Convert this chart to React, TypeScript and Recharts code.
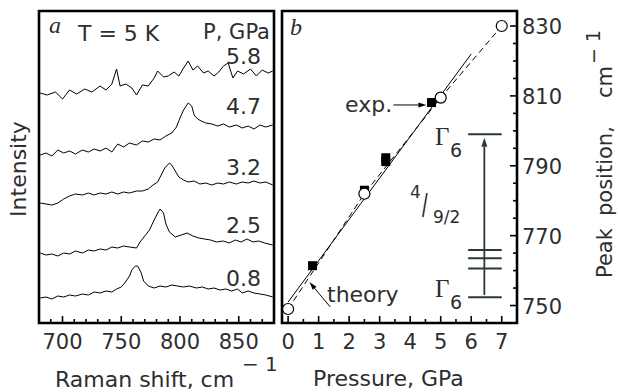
import React from "react";
import {
  LineChart, ComposedChart, Line, Scatter, XAxis, YAxis, ReferenceArea, ReferenceLine,
} from "recharts";

const SANS = "'DejaVu Sans', sans-serif";
const SERIF = "'Liberation Serif', 'DejaVu Serif', serif";
const INK = "#2e2e2e";
const LEVEL = "#2a3838";

// Raman spectra at 5 K, stacked, [shift (cm-1), intensity (a.u.)]
const spec58: [number, number][] = [
  [681, 230], [687, 228], [694, 231], [700, 224], [706, 233], [712, 229], [719, 234], [725, 231],
  [732, 237], [737, 233], [742, 239], [746, 254], [749, 237], [754, 239], [759, 235], [763, 228],
  [768, 238], [773, 237], [778, 245], [781, 252], [786, 246], [790, 247], [795, 251], [799, 247],
  [803, 255], [807, 262], [811, 253], [815, 257], [820, 250], [824, 252], [829, 247], [833, 251],
  [837, 257], [841, 260], [845, 245], [849, 252], [854, 249], [860, 254], [865, 247], [870, 253],
  [875, 250], [879, 252],
];
const spec47: [number, number][] = [
  [681, 168], [686, 170], [691, 167], [696, 173], [701, 170], [706, 172], [711, 169], [717, 173],
  [722, 171], [727, 174], [732, 172], [737, 175], [742, 171], [747, 179], [752, 176], [757, 180],
  [763, 178], [768, 182], [773, 181], [778, 184], [783, 183], [788, 187], [793, 190], [797, 196],
  [800, 205], [803, 213], [807, 220], [810, 217], [812, 208], [815, 204], [818, 202], [822, 200],
  [827, 199], [832, 197], [837, 199], [842, 196], [848, 198], [853, 195], [858, 197], [863, 194],
  [868, 198], [873, 196], [879, 198],
];
const spec32: [number, number][] = [
  [681, 120], [686, 119], [691, 118], [696, 120], [701, 124], [706, 127], [711, 129], [717, 128],
  [722, 130], [727, 128], [732, 130], [737, 129], [742, 131], [747, 129], [752, 131], [757, 130],
  [763, 132], [768, 132], [773, 134], [777, 138], [781, 141], [784, 148], [787, 155], [791, 160],
  [793, 158], [796, 152], [799, 146], [803, 143], [807, 141], [812, 142], [817, 139], [822, 140],
  [827, 138], [832, 140], [837, 139], [842, 141], [848, 139], [853, 141], [858, 140], [863, 142],
  [868, 140], [873, 141], [879, 138],
];
const spec25: [number, number][] = [
  [681, 70], [686, 68], [691, 69], [696, 67], [701, 70], [706, 69], [711, 72], [717, 70],
  [722, 73], [727, 72], [732, 74], [737, 73], [742, 76], [747, 75], [752, 77], [757, 76],
  [763, 75], [766, 81], [770, 87], [774, 93], [778, 103], [781, 110], [783, 114], [786, 110],
  [788, 99], [791, 91], [796, 86], [801, 88], [806, 90], [811, 87], [816, 85], [821, 84],
  [826, 83], [831, 81], [837, 82], [842, 80], [847, 83], [852, 81], [857, 84], [862, 81],
  [867, 82], [872, 80], [879, 78],
];
const spec08: [number, number][] = [
  [681, 25], [686, 26], [691, 24], [696, 27], [701, 26], [706, 28], [711, 27], [717, 29],
  [722, 28], [727, 31], [732, 30], [737, 32], [742, 31], [746, 34], [750, 36], [753, 40],
  [757, 47], [759, 53], [762, 57], [764, 57], [767, 50], [769, 42], [773, 37], [778, 35],
  [783, 37], [788, 36], [793, 38], [798, 37], [803, 36], [808, 37], [814, 35], [819, 36],
  [824, 34], [829, 35], [834, 33], [839, 34], [844, 32], [849, 34], [853, 30], [858, 32],
  [863, 30], [868, 29], [873, 28], [879, 26],
];
const spectra = [spec58, spec47, spec32, spec25, spec08];
const pressureLabels = ["5.8", "4.7", "3.2", "2.5", "0.8"];

const shiftDomain = [680, 880];
const shiftTicks = [690, 700, 710, 720, 730, 740, 750, 760, 770, 780, 790, 800, 810, 820, 830, 840, 850, 860, 870];
const shiftMajor = [700, 750, 800, 850];
const intensityDomain = [0, 312];

// panel b
const pDomain = [-0.2, 7.5];
const pTicks = [0, 0.5, 1, 1.5, 2, 2.5, 3, 3.5, 4, 4.5, 5, 5.5, 6, 6.5, 7];
const pMajor = [0, 1, 2, 3, 4, 5, 6, 7];
const peakDomain = [745, 834.3];
const peakTicks = [750, 755, 760, 765, 770, 775, 780, 785, 790, 795, 800, 805, 810, 815, 820, 825, 830];
const peakMajor = [750, 770, 790, 810, 830];

const theoryP = [0, 2.5, 5, 7];
const theoryPeak = [749, 782, 809.5, 830];
const expP = [0.8, 2.5, 3.2, 3.2, 4.7];
const expPeak = [761.4, 783, 791.2, 792.3, 808.1];
const fitP = [0, 6];
const fitPeak = [751, 822];

// crystal-field levels of 4I9/2 (cm-1)
const levelGamma6 = [752.4, 799];
const levelOthers = [760.6, 763.5, 765.9];
const levelSpan = [5.9, 7.0];
const levelArrowP = 6.43;

const toXY = (xs: number[], ys: number[]) => xs.map((x, i) => ({ x, y: ys[i] }));

const bottomTick = (major: number[]) => (props: any) => {
  const { x, y, payload } = props;
  const isMajor = major.includes(payload.value);
  return (
    <g>
      <line x1={x} x2={x} y1={y} y2={y - (isMajor ? 7 : 4)} stroke="#000" strokeWidth={1.6} />
      {isMajor && (
        <text x={x} y={y + 26} textAnchor="middle" fontFamily={SANS} fontSize={21} fill={INK}>
          {payload.value}
        </text>
      )}
    </g>
  );
};

const rightTick = (props: any) => {
  const { x, y, payload } = props;
  const isMajor = peakMajor.includes(payload.value);
  return (
    <g>
      <line x1={x} x2={x - (isMajor ? 7 : 4)} y1={y} y2={y} stroke="#000" strokeWidth={1.6} />
      {isMajor && (
        <text x={x + 5} y={y + 8} textAnchor="start" fontFamily={SANS} fontSize={21} fill={INK}>
          {payload.value}
        </text>
      )}
    </g>
  );
};

const arrowShape = (color: string, w: number, head = 9, half = 3) => (p: any) => {
  const { x1, y1, x2, y2 } = p;
  const dx = x2 - x1, dy = y2 - y1;
  const len = Math.hypot(dx, dy) || 1;
  const ux = dx / len, uy = dy / len;
  const bx = x2 - ux * head, by = y2 - uy * head;
  return (
    <g>
      <line x1={x1} y1={y1} x2={bx} y2={by} stroke={color} strokeWidth={w} />
      <polygon points={`${x2},${y2} ${bx - uy * half},${by + ux * half} ${bx + uy * half},${by - ux * half}`} fill={color} />
    </g>
  );
};

const square = (p: any) => <rect x={p.cx - 4.5} y={p.cy - 4.5} width={9} height={9} fill="#000" />;
const openCircle = (p: any) => <circle cx={p.cx} cy={p.cy} r={5.5} fill="#fff" stroke="#000" strokeWidth={1.2} />;

function SpectraPanel() {
  return (
    <LineChart width={278} height={392} margin={{ top: 11, right: 4, bottom: 0, left: 39 }}>
      <XAxis
        type="number" dataKey="x" domain={shiftDomain} ticks={shiftTicks} interval={0}
        allowDataOverflow height={69} axisLine={false} tickLine={false} tickSize={0} tickMargin={0}
        tick={bottomTick(shiftMajor)}
      />
      <YAxis type="number" dataKey="y" domain={intensityDomain} allowDataOverflow hide />
      {spectra.map((s, i) => (
        <Line
          key={pressureLabels[i]} data={s.map(([x, y]) => ({ x, y }))} dataKey="y" type="linear"
          stroke="#000" strokeWidth={1} dot={false} isAnimationActive={false}
        />
      ))}
      <ReferenceArea
        x1={shiftDomain[0]} x2={shiftDomain[1]} y1={intensityDomain[0]} y2={intensityDomain[1]}
        fill="none" fillOpacity={0} stroke="#000" strokeWidth={2.6} ifOverflow="visible"
      />
    </LineChart>
  );
}

function PressurePanel() {
  return (
    <ComposedChart width={340} height={392} margin={{ top: 11, right: 41, bottom: 0, left: 4 }}>
      <XAxis
        type="number" dataKey="x" domain={pDomain} ticks={pTicks} interval={0}
        allowDataOverflow height={69} axisLine={false} tickLine={false} tickSize={0} tickMargin={0}
        tick={bottomTick(pMajor)}
      />
      <YAxis
        type="number" dataKey="y" orientation="right" width={60} domain={peakDomain} ticks={peakTicks}
        interval={0} allowDataOverflow axisLine={false} tickLine={false} tickSize={0} tickMargin={0}
        tick={rightTick}
      />
      <Line data={toXY(fitP, fitPeak)} dataKey="y" type="linear" stroke="#000" strokeWidth={1} dot={false} isAnimationActive={false} />
      <Line data={toXY(theoryP, theoryPeak)} dataKey="y" type="linear" stroke="#000" strokeWidth={1} strokeDasharray="6 4" dot={false} isAnimationActive={false} />
      <Scatter data={toXY(expP, expPeak)} shape={square} isAnimationActive={false} />
      <Scatter data={toXY(theoryP, theoryPeak)} shape={openCircle} isAnimationActive={false} />
      {levelGamma6.concat(levelOthers).map((e) => (
        <ReferenceLine
          key={e} segment={[{ x: levelSpan[0], y: e }, { x: levelSpan[1], y: e }]}
          stroke={LEVEL} strokeWidth={2} ifOverflow="visible"
        />
      ))}
      <ReferenceLine
        segment={[{ x: levelArrowP, y: levelGamma6[0] + 0.6 }, { x: levelArrowP, y: levelGamma6[1] - 1 }]}
        shape={arrowShape(LEVEL, 1.8, 9, 3)} ifOverflow="visible"
      />
      <ReferenceLine
        segment={[{ x: 3.45, y: 807.4 }, { x: 4.53, y: 807.4 }]}
        shape={arrowShape("#000", 1, 8, 2.5)} ifOverflow="visible"
      />
      <ReferenceLine
        segment={[{ x: 1.38, y: 749.6 }, { x: 0.7, y: 756.7 }]}
        shape={arrowShape("#000", 1, 8, 2.5)} ifOverflow="visible"
      />
      <ReferenceArea
        x1={pDomain[0]} x2={pDomain[1]} y1={peakDomain[0]} y2={peakDomain[1]}
        fill="none" fillOpacity={0} stroke="#000" strokeWidth={2.6} ifOverflow="visible"
      />
    </ComposedChart>
  );
}

const pressureBaselines = [64, 114, 175, 233, 286];

function Labels() {
  const t = { fontFamily: SANS, fill: INK };
  return (
    <svg width={618} height={392} style={{ position: "absolute", left: 0, top: 0, pointerEvents: "none" }}>
      <text x={49} y={33} fontFamily={SERIF} fontStyle="italic" fontSize={24} fill={INK}>a</text>
      <text x={78} y={41} fontSize={22} {...t}>T = 5 K</text>
      <text x={270} y={39} fontSize={21} textAnchor="end" {...t}>P, GPa</text>
      {pressureLabels.map((p, i) => (
        <text key={p} x={261} y={pressureBaselines[i]} fontSize={22} textAnchor="end" {...t}>{p}</text>
      ))}
      <text transform="translate(26,169) rotate(-90)" textAnchor="middle" fontSize={22} {...t}>Intensity</text>
      <text x={55} y={387} fontSize={22} {...t}>Raman shift, cm</text>
      <text x={242} y={371} fontSize={20} {...t}>− 1</text>

      <text x={290} y={35} fontFamily={SERIF} fontStyle="italic" fontSize={24} fill={INK}>b</text>
      <text x={345} y={112} fontSize={22} {...t}>exp.</text>
      <text x={327} y={302} fontSize={22} {...t}>theory</text>
      <text x={313} y={386} fontSize={22} {...t}>Pressure, GPa</text>

      <text x={435} y={145} fontFamily={SERIF} fontSize={25} fill={INK}>Γ</text>
      <text x={450} y={157} fontSize={19} {...t}>6</text>
      <text x={435} y={297} fontFamily={SERIF} fontSize={25} fill={INK}>Γ</text>
      <text x={450} y={309} fontSize={19} {...t}>6</text>
      <text x={410} y={198} fontSize={17} {...t}>4</text>
      <text transform="translate(422,217) scale(0.6,1)" fontSize={34} fontFamily="'Liberation Sans', sans-serif" fill={INK}>/</text>
      <text x={433} y={223} fontSize={17} {...t}>9/2</text>

      <g transform="translate(612,278) rotate(-90)" {...t}>
        <text x={0} y={0} fontSize={21}>Peak</text>
        <text x={62} y={0} fontSize={21}>position,</text>
        <text x={180} y={0} fontSize={21}>cm</text>
        <text x={214} y={-12} fontSize={19}>− 1</text>
      </g>
    </svg>
  );
}

export default function App() {
  return (
    <div style={{ position: "absolute", left: 0, top: 0, width: 618, height: 392, background: "#fff" }}>
      <div style={{ position: "absolute", left: 0, top: 0 }}>
        <SpectraPanel />
      </div>
      <div style={{ position: "absolute", left: 278, top: 0 }}>
        <PressurePanel />
      </div>
      <Labels />
    </div>
  );
}
